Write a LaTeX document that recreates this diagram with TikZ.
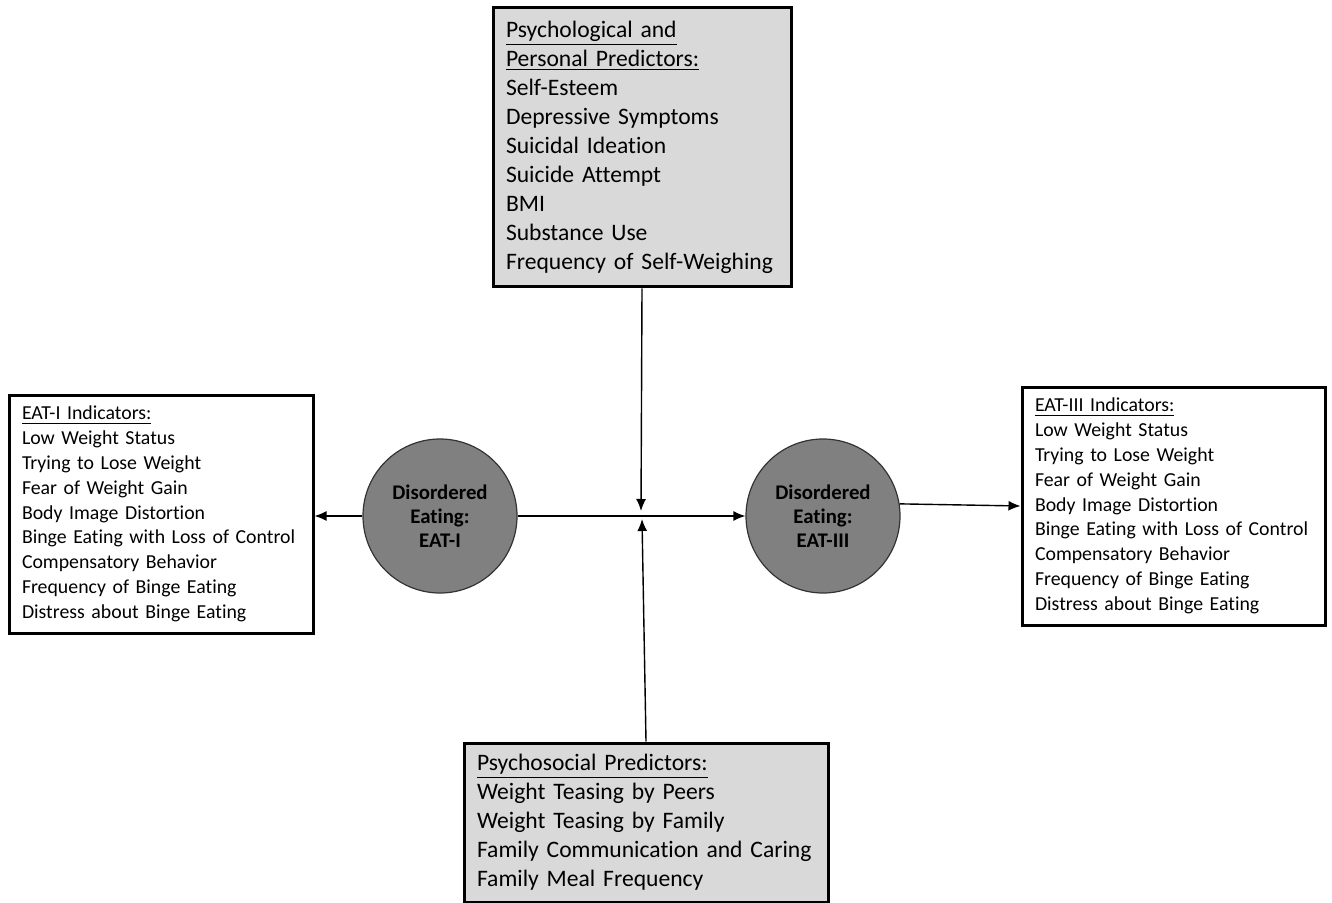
\documentclass[tikz,border=0pt]{standalone}
\usepackage{fontspec}
\setmainfont[Ligatures=NoCommon]{Carlito}
\usetikzlibrary{arrows.meta,positioning}
\definecolor{boxgray}{gray}{0.85}
\definecolor{circgray}{gray}{0.5}

\begin{document}
\begin{tikzpicture}[x=0.5pt,y=-0.5pt,
    predbox/.style={draw=black,line width=1.5pt,fill=boxgray,inner xsep=6.5pt,align=left,
      font=\fontsize{11.8}{14.5}\selectfont},
    indbox/.style={draw=black,line width=1.5pt,fill=white,inner xsep=6.5pt,align=left,
      font=\fontsize{9.9}{12.4}\selectfont},
    latent/.style={circle,draw=black!80,line width=0.6pt,fill=circgray,minimum size=77pt,
      inner sep=0pt,align=center,font=\bfseries\fontsize{10.4}{12}\selectfont},
    link/.style={-{Latex[length=6pt,width=5pt]},line width=0.7pt}]
  \useasboundingbox (0,0) rectangle (1332,903);
  % Predictor boxes
  \node[predbox,text width=136pt,minimum height=139.5pt] (pp) at (642,147.5)
    {\underline{Psychological and}\\\underline{Personal Predictors:}\\Self-Esteem\\Depressive Symptoms\\
     Suicidal Ideation\\Suicide Attempt\\BMI\\Substance Use\\Frequency of Self-Weighing};
  \node[predbox,text width=169pt,minimum height=79.5pt] (ps) at (646,822.5)
    {\underline{Psychosocial Predictors:}\\Weight Teasing by Peers\\Weight Teasing by Family\\
     Family Communication and Caring\\Family Meal Frequency};
  % Indicator boxes
  \node[indbox,text width=139pt,minimum height=119pt] (ind1) at (161,514)
    {\underline{EAT-I Indicators:}\\Low Weight Status\\Trying to Lose Weight\\Fear of Weight Gain\\
     Body Image Distortion\\Binge Eating with Loss of Control\\Compensatory Behavior\\
     Frequency of Binge Eating\\Distress about Binge Eating};
  \node[indbox,text width=138.5pt,minimum height=119pt] (ind3) at (1173.5,506)
    {\underline{EAT-III Indicators:}\\Low Weight Status\\Trying to Lose Weight\\Fear of Weight Gain\\
     Body Image Distortion\\Binge Eating with Loss of Control\\Compensatory Behavior\\
     Frequency of Binge Eating\\Distress about Binge Eating};
  % Latent variables
  \node[latent] (eat1) at (440,516) {Disordered\\Eating:\\EAT-I};
  \node[latent] (eat3) at (823,516) {Disordered\\Eating:\\EAT-III};
  % Arrows
  \coordinate (hitA) at (641,511);
  \coordinate (hitB) at (642,519);
  \draw[link] (eat1.west) -- (eat1.west -| ind1.east);
  \draw[link] (eat1.east) -- (eat3.west);
  \draw[link] (eat3.9) -- (ind3.west);
  \draw[link] (pp.south) -- (hitA);
  \draw[link] (ps.north) -- (hitB);
\end{tikzpicture}
\end{document}
